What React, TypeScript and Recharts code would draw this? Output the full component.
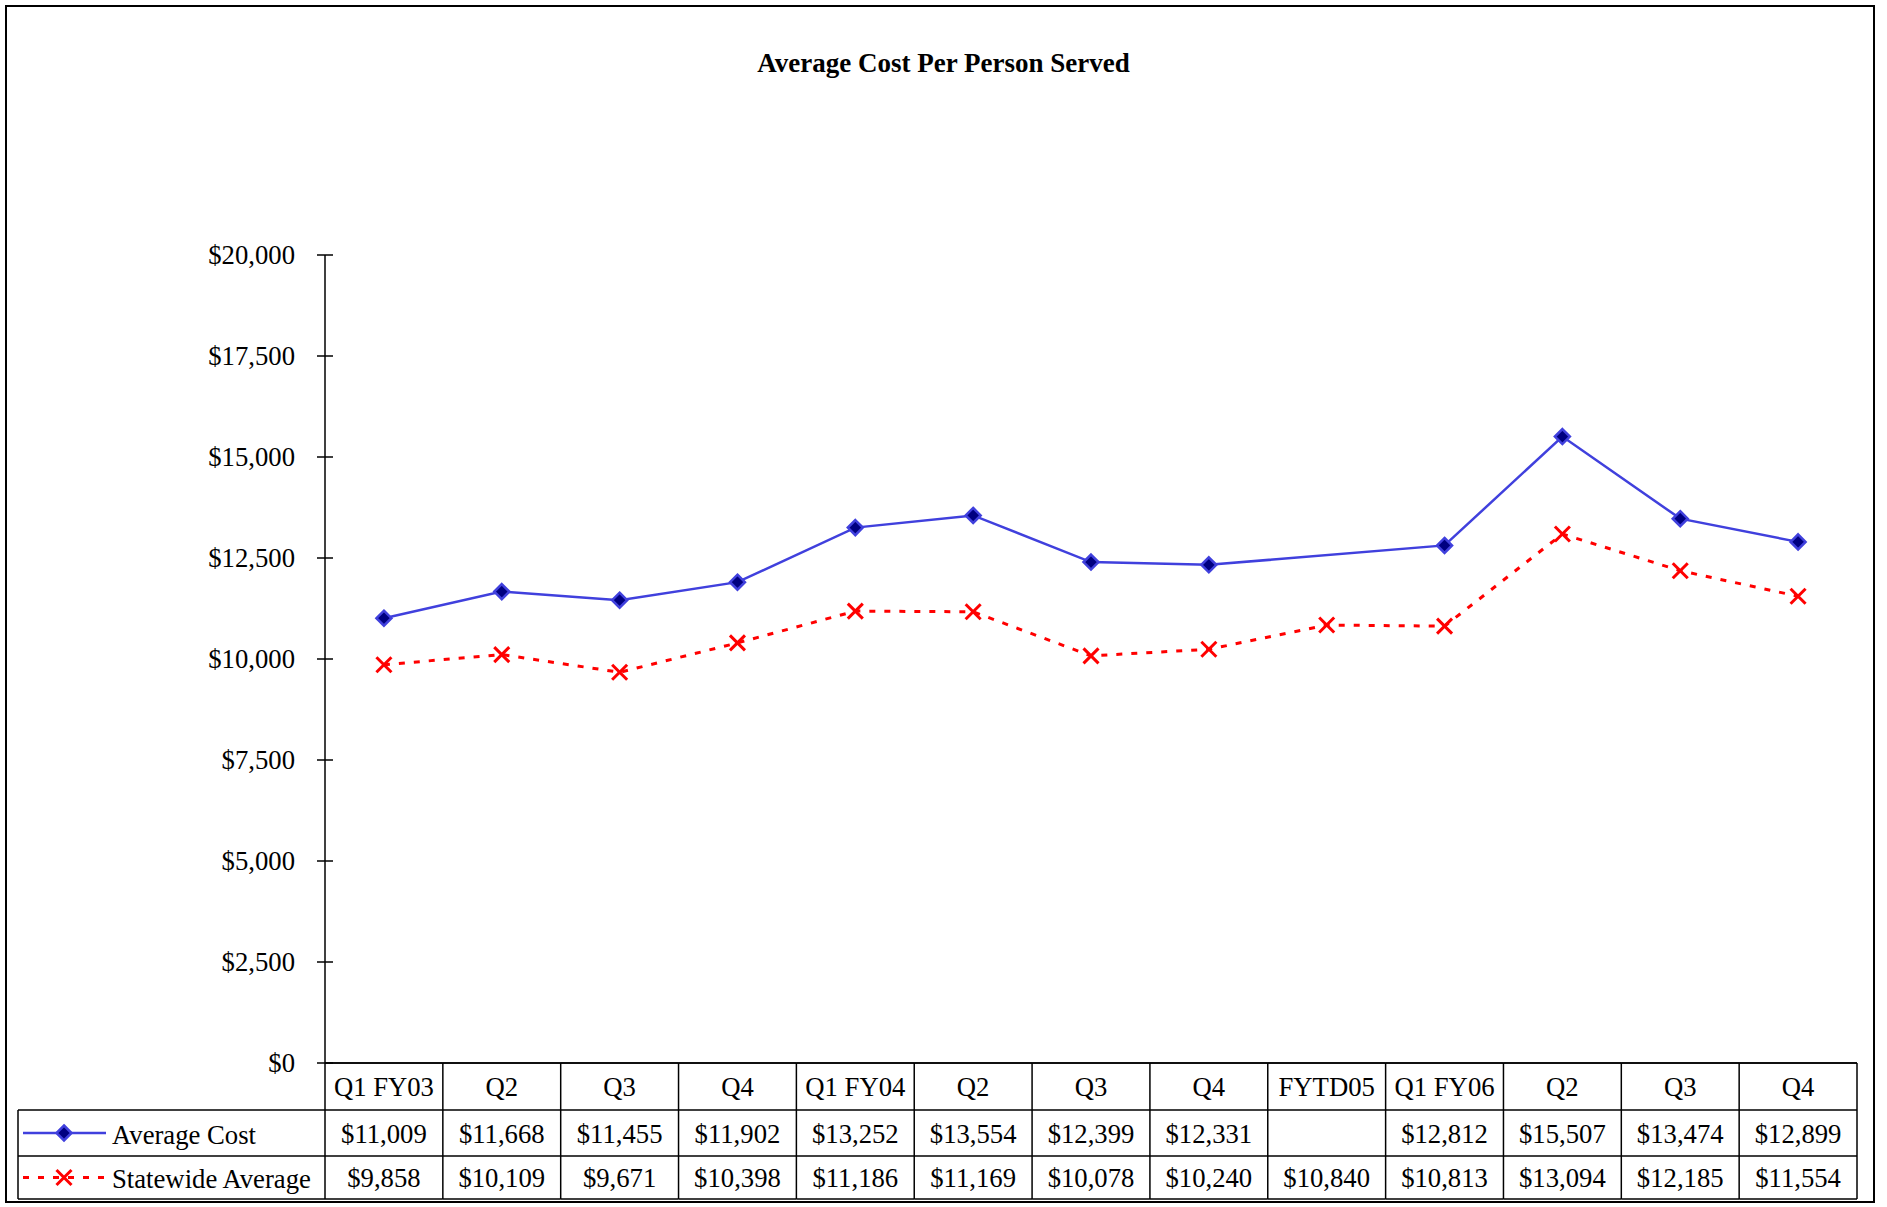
import React from "react";
import { LineChart, Line, XAxis, YAxis } from "recharts";

const categories = ["Q1 FY03", "Q2", "Q3", "Q4", "Q1 FY04", "Q2", "Q3", "Q4", "FYTD05", "Q1 FY06", "Q2", "Q3", "Q4"];
const averageCost: (number | null)[] = [11009, 11668, 11455, 11902, 13252, 13554, 12399, 12331, null, 12812, 15507, 13474, 12899];
const statewideAverage: number[] = [9858, 10109, 9671, 10398, 11186, 11169, 10078, 10240, 10840, 10813, 13094, 12185, 11554];
const yTicks = [0, 2500, 5000, 7500, 10000, 12500, 15000, 17500, 20000];

const data = categories.map((label, i) => ({
  idx: i,
  label,
  avg: averageCost[i],
  state: statewideAverage[i],
}));

const W = 1887;
const H = 1207;
const PLOT_LEFT = 325;
const PLOT_RIGHT = 1857;
const PLOT_TOP = 255;
const PLOT_BOTTOM = 1063;
const CELL_W = (PLOT_RIGHT - PLOT_LEFT) / categories.length;
const ROW1 = 47;
const ROW2 = 46;
const ROW3 = 43;
const LEGEND_W = 307;
const Y_AXIS_W = 120;
const X_AXIS_H = H - PLOT_BOTTOM;
const FONT = "'Liberation Serif', 'Times New Roman', serif";
const FS = 26.7;
const BLUE = "#4040DD";
const NAVY = "#000080";
const RED = "#FF0000";

const fmt = (v: number | null) => (v == null ? "" : "$" + v.toLocaleString("en-US"));

const Diamond = (cx: number, cy: number, r = 7.5) => (
  <polygon
    points={`${cx},${cy - r} ${cx + r},${cy} ${cx},${cy + r} ${cx - r},${cy}`}
    fill={NAVY}
    stroke={BLUE}
    strokeWidth={2.5}
  />
);

const Cross = (cx: number, cy: number, r = 7.5) => (
  <g stroke={RED} strokeWidth={3}>
    <line x1={cx - r} y1={cy - r} x2={cx + r} y2={cy + r} />
    <line x1={cx - r} y1={cy + r} x2={cx + r} y2={cy - r} />
  </g>
);

const AvgDot = (props: any) => {
  const { cx, cy, payload, index } = props;
  if (payload?.avg == null || cx == null || cy == null) return <g key={"a" + index} />;
  return <g key={"a" + index}>{Diamond(cx, cy)}</g>;
};

const StateDot = (props: any) => {
  const { cx, cy, index } = props;
  if (cx == null || cy == null) return <g key={"s" + index} />;
  return <g key={"s" + index}>{Cross(cx, cy)}</g>;
};

const TableTick = (props: any) => {
  const { x, y, payload } = props;
  const i = Number(payload?.value ?? 0);
  const left = x - CELL_W / 2;
  const right = x + CELL_W / 2;
  const y1 = y + ROW1;
  const y2 = y1 + ROW2;
  const y3 = y2 + ROW3;
  const line = { stroke: "#000", strokeWidth: 1.5 };
  return (
    <g>
      <line x1={left} y1={y} x2={right} y2={y} {...line} />
      <line x1={left} y1={y1} x2={right} y2={y1} {...line} />
      <line x1={left} y1={y2} x2={right} y2={y2} {...line} />
      <line x1={left} y1={y3} x2={right} y2={y3} {...line} />
      <line x1={right} y1={y} x2={right} y2={y3} {...line} />
      {i === 0 && <line x1={left} y1={y} x2={left} y2={y3} {...line} />}
      <text x={x} y={y + ROW1 / 2} textAnchor="middle" dominantBaseline="central" fontFamily={FONT} fontSize={FS} fill="#000">
        {categories[i]}
      </text>
      <text x={x} y={y1 + ROW2 / 2 + 1} textAnchor="middle" dominantBaseline="central" fontFamily={FONT} fontSize={FS} fill="#000">
        {fmt(averageCost[i])}
      </text>
      <text x={x} y={y2 + ROW3 / 2} textAnchor="middle" dominantBaseline="central" fontFamily={FONT} fontSize={FS} fill="#000">
        {fmt(statewideAverage[i])}
      </text>
      {i === 0 && (
        <g>
          <line x1={left - LEGEND_W} y1={y1} x2={left} y2={y1} {...line} />
          <line x1={left - LEGEND_W} y1={y2} x2={left} y2={y2} {...line} />
          <line x1={left - LEGEND_W} y1={y3} x2={left} y2={y3} {...line} />
          <line x1={left - LEGEND_W} y1={y1} x2={left - LEGEND_W} y2={y3} {...line} />
          <line x1={left - LEGEND_W + 5} y1={y1 + ROW2 / 2} x2={left - LEGEND_W + 88} y2={y1 + ROW2 / 2} stroke={BLUE} strokeWidth={2.5} />
          {Diamond(left - LEGEND_W + 46, y1 + ROW2 / 2)}
          <text x={left - LEGEND_W + 94} y={y1 + ROW2 / 2 + 2} dominantBaseline="central" fontFamily={FONT} fontSize={FS} fill="#000">
            Average Cost
          </text>
          <line x1={left - LEGEND_W + 5} y1={y2 + ROW3 / 2} x2={left - LEGEND_W + 88} y2={y2 + ROW3 / 2} stroke={RED} strokeWidth={3} strokeDasharray="6 9" />
          {Cross(left - LEGEND_W + 46, y2 + ROW3 / 2)}
          <text x={left - LEGEND_W + 94} y={y2 + ROW3 / 2 + 1} dominantBaseline="central" fontFamily={FONT} fontSize={FS} fill="#000">
            Statewide Average
          </text>
        </g>
      )}
    </g>
  );
};

const YTick = (props: any) => {
  const { x, y, payload } = props;
  return (
    <g>
      <line x1={x + 22} y1={y} x2={x + 38} y2={y} stroke="#000" strokeWidth={1.5} />
      <text x={x} y={y} textAnchor="end" dominantBaseline="central" fontFamily={FONT} fontSize={FS} fill="#000">
        {fmt(payload.value)}
      </text>
    </g>
  );
};

export default function App() {
  return (
    <div style={{ position: "absolute", left: 0, top: 0, width: W, height: H, background: "#fff" }}>
      <LineChart
        width={W}
        height={H}
        data={data}
        margin={{ top: PLOT_TOP, right: W - PLOT_RIGHT, bottom: 0, left: PLOT_LEFT - Y_AXIS_W }}
      >
        <XAxis
          dataKey="idx"
          type="category"
          interval={0}
          padding={{ left: CELL_W / 2, right: CELL_W / 2 }}
          tickLine={false}
          tickSize={0}
          tickMargin={0}
          axisLine={{ stroke: "#000", strokeWidth: 1.5 }}
          tick={<TableTick />}
          height={X_AXIS_H}
        />
        <YAxis
          domain={[0, 20000]}
          ticks={yTicks}
          interval={0}
          width={Y_AXIS_W}
          tickLine={false}
          tickSize={8}
          tickMargin={22}
          axisLine={{ stroke: "#000", strokeWidth: 1.5 }}
          tick={<YTick />}
        />
        <Line
          dataKey="avg"
          stroke={BLUE}
          strokeWidth={2.5}
          connectNulls={true}
          dot={AvgDot}
          activeDot={false}
          isAnimationActive={false}
        />
        <Line
          dataKey="state"
          stroke={RED}
          strokeWidth={3}
          strokeDasharray="6 9"
          dot={StateDot}
          activeDot={false}
          isAnimationActive={false}
        />
      </LineChart>
      <div
        style={{
          position: "absolute",
          left: 0,
          top: 48,
          width: W,
          textAlign: "center",
          fontFamily: FONT,
          fontWeight: "bold",
          fontSize: 27,
          color: "#000",
        }}
      >
        Average Cost Per Person Served
      </div>
      <div
        style={{
          position: "absolute",
          left: 5,
          top: 5,
          width: 1870,
          height: 1198,
          border: "2px solid #000",
          boxSizing: "border-box",
          pointerEvents: "none",
        }}
      />
    </div>
  );
}
